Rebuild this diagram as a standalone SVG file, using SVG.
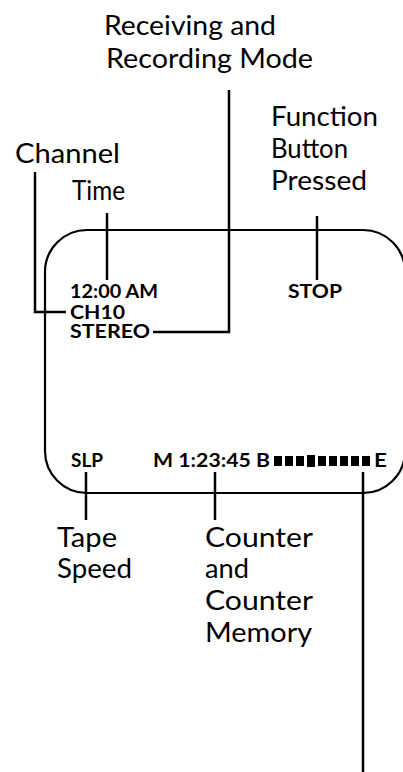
<svg xmlns="http://www.w3.org/2000/svg" width="403" height="772" viewBox="0 0 403 772">
<style>
.lbl{font-family:Lato,"Open Sans","Liberation Sans",sans-serif;font-size:27px;fill:#000}
.disp{font-family:Lato,"Open Sans","Liberation Sans",sans-serif;font-size:19px;font-weight:700;fill:#000}
.ln{fill:none;stroke:#000;stroke-width:2.5}
.blk{fill:#000}
</style>
<rect x="0" y="0" width="403" height="772" fill="#fff"/>
<g id="display">
<rect x="45" y="230" width="360" height="263" rx="42" ry="42" fill="none" stroke="#000" stroke-width="2.2"/>
<text class="disp" x="70" y="298" textLength="88" lengthAdjust="spacingAndGlyphs">12:00 AM</text>
<text class="disp" x="70" y="319" textLength="55" lengthAdjust="spacingAndGlyphs">CH10</text>
<text class="disp" x="70" y="338" textLength="80" lengthAdjust="spacingAndGlyphs">STEREO</text>
<text class="disp" x="288" y="298" textLength="54" lengthAdjust="spacingAndGlyphs">STOP</text>
<text class="disp" x="71" y="467" textLength="32" lengthAdjust="spacingAndGlyphs">SLP</text>
<text class="disp" x="153" y="467" textLength="117" lengthAdjust="spacingAndGlyphs">M 1:23:45 B</text>
<g id="bars">
<rect class="blk" x="274" y="456" width="8" height="10"/>
<rect class="blk" x="285" y="456" width="8" height="10"/>
<rect class="blk" x="296" y="456" width="8" height="10"/>
<rect class="blk" x="307" y="455" width="8" height="12"/>
<rect class="blk" x="318" y="456" width="8" height="10"/>
<rect class="blk" x="329" y="456" width="8" height="10"/>
<rect class="blk" x="340" y="456" width="8" height="10"/>
<rect class="blk" x="351" y="456" width="8" height="10"/>
<rect class="blk" x="362" y="456" width="8" height="10"/>
</g>
<text class="disp" x="374" y="467" textLength="13" lengthAdjust="spacingAndGlyphs">E</text>
</g>
<g id="connectors">
<path class="ln" d="M35,172 V312 H66"/>
<path class="ln" d="M107,213 V280"/>
<path class="ln" d="M229,90 V332 H153"/>
<path class="ln" d="M317,216 V280"/>
<path class="ln" d="M86,472 V520"/>
<path class="ln" d="M215,472 V520"/>
<path class="ln" d="M363,472 V772"/>
</g>
<g id="label-receiving">
<text class="lbl" x="104" y="35" textLength="172" lengthAdjust="spacingAndGlyphs">Receiving and</text>
<text class="lbl" x="106" y="68" textLength="207" lengthAdjust="spacingAndGlyphs">Recording Mode</text>
</g>
<g id="label-function">
<text class="lbl" x="271" y="126" textLength="107" lengthAdjust="spacingAndGlyphs">Function</text>
<text class="lbl" x="271" y="158" textLength="77" lengthAdjust="spacingAndGlyphs">Button</text>
<text class="lbl" x="271" y="190" textLength="96" lengthAdjust="spacingAndGlyphs">Pressed</text>
</g>
<g id="label-channel">
<text class="lbl" x="15" y="163" textLength="105" lengthAdjust="spacingAndGlyphs">Channel</text>
</g>
<g id="label-time">
<text class="lbl" x="72" y="200" textLength="53" lengthAdjust="spacingAndGlyphs">Time</text>
</g>
<g id="label-tape">
<text class="lbl" x="57" y="547" textLength="60" lengthAdjust="spacingAndGlyphs">Tape</text>
<text class="lbl" x="57" y="578" textLength="75" lengthAdjust="spacingAndGlyphs">Speed</text>
</g>
<g id="label-counter">
<text class="lbl" x="205" y="547" textLength="108" lengthAdjust="spacingAndGlyphs">Counter</text>
<text class="lbl" x="205" y="578" textLength="44" lengthAdjust="spacingAndGlyphs">and</text>
<text class="lbl" x="205" y="610" textLength="108" lengthAdjust="spacingAndGlyphs">Counter</text>
<text class="lbl" x="205" y="642" textLength="107" lengthAdjust="spacingAndGlyphs">Memory</text>
</g>
</svg>
